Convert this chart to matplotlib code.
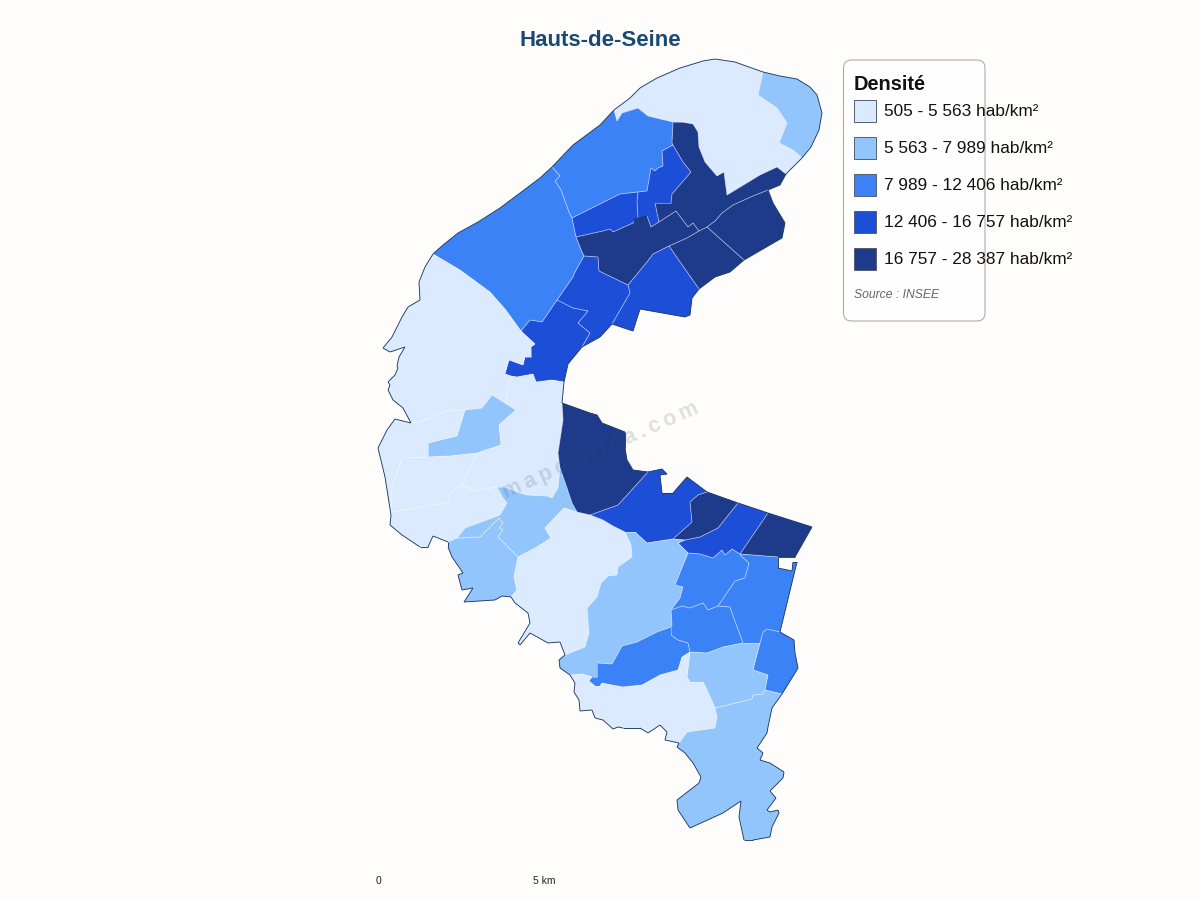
import matplotlib
matplotlib.use("Agg")
import matplotlib.pyplot as plt
from matplotlib.patches import Polygon, Rectangle, FancyBboxPatch
from matplotlib.collections import LineCollection
from collections import Counter

plt.rcParams['font.family'] = ['Liberation Sans', 'DejaVu Sans']

title = "Hauts-de-Seine"
legend_title = "Densité"
source = "Source : INSEE"
class_labels = ["505 - 5 563 hab/km²", "5 563 - 7 989 hab/km²", "7 989 - 12 406 hab/km²",
                "12 406 - 16 757 hab/km²", "16 757 - 28 387 hab/km²"]
class_colors = ["#dbeafe", "#93c5fd", "#3b82f6", "#1d4ed8", "#1e3a8a"]
scale_labels = ["0", "5 km"]
scale_pos = [378, 544]
watermark = "mapolitica.com"

# commune outlines, neighbours repeat the same vertices
north_loop = [(614, 110), (630, 98), (640, 88), (657, 78), (680, 68), (703, 61), (715, 59), (735, 62), (763, 72),
              (758, 95), (777, 108), (787, 123), (779, 143), (793, 150), (802, 158), (786, 174), (777, 167), (760, 175),
              (727, 195), (724, 172), (717, 176), (705, 162), (699, 147), (698, 132), (693, 124), (682, 122), (673, 122),
              (648, 116), (638, 108), (622, 113), (617, 121)]
north_tip = [(763, 72), (780, 76), (797, 79), (810, 87), (817, 95), (822, 113), (819, 130), (811, 147), (802, 158),
             (793, 150), (779, 143), (787, 123), (777, 108), (758, 95)]
north_west = [(552, 167), (573, 145), (600, 125), (614, 110), (617, 121), (622, 113), (638, 108), (648, 116), (673, 122),
              (672, 143), (673, 145), (662, 151), (663, 166), (658, 168), (655, 171), (651, 168), (647, 191), (638, 192), (620, 194),
              (572, 218), (569, 212), (561, 190), (555, 181), (560, 176)]
strip_a = [(572, 218), (620, 194), (638, 192), (637, 202), (638, 218), (633, 220), (633, 223), (613, 232), (610, 229),
           (603, 231), (576, 237)]
strip_b = [(673, 145), (662, 151), (663, 166), (658, 168), (655, 171), (651, 168), (647, 191), (638, 192), (637, 202),
           (638, 218), (647, 216), (651, 227), (659, 222), (655, 203), (671, 203), (672, 194), (691, 172), (683, 162)]
dark_top = [(673, 122), (682, 122), (693, 124), (698, 132), (699, 147), (705, 162), (717, 176), (724, 172), (727, 195),
            (760, 175), (777, 167), (786, 174), (780, 185), (768, 190), (753, 196), (733, 205), (722, 213), (715, 221),
            (707, 227), (699, 231), (693, 223), (688, 227), (676, 211), (659, 222), (655, 203), (671, 203), (672, 194),
            (691, 172), (683, 162), (673, 145), (672, 143)]
dark_mid = [(576, 237), (603, 231), (610, 229), (613, 232), (633, 223), (633, 220), (647, 216), (651, 227), (659, 222),
            (676, 211), (688, 227), (693, 223), (699, 231), (687, 238), (669, 246), (653, 254), (647, 262), (628, 285),
            (599, 271), (598, 257), (584, 256), (582, 252)]
dark_east = [(768, 190), (773, 203), (785, 223), (782, 238), (744, 260), (707, 227), (715, 221), (722, 213), (733, 205),
             (753, 196)]
dark_south = [(707, 227), (744, 260), (730, 272), (715, 277), (699, 289), (669, 246), (687, 238), (699, 231)]
bend_east = [(669, 246), (699, 289), (692, 298), (690, 315), (685, 317), (640, 309), (633, 331), (612, 324), (630, 293),
             (628, 285), (647, 262), (653, 254)]
bend_mid = [(584, 256), (598, 257), (599, 271), (628, 285), (630, 293), (612, 324), (600, 337), (582, 347), (590, 333),
            (578, 323), (588, 311), (573, 308), (557, 300), (573, 277), (575, 272)]
bend_low = [(557, 300), (542, 322), (530, 320), (521, 331), (535, 344), (531, 347), (531, 357), (525, 357), (523, 365),
            (509, 360), (505, 374), (511, 376), (517, 377), (533, 374), (536, 382), (552, 380), (564, 382), (568, 364),
            (582, 347), (590, 333), (578, 323), (588, 311), (573, 308)]
west_big = [(433, 254), (443, 245), (458, 233), (478, 222), (500, 208), (520, 193), (540, 178), (552, 167), (560, 176), (555, 181),
            (561, 190), (569, 212), (572, 218), (576, 237), (582, 252), (584, 256), (575, 272), (573, 277), (557, 300),
            (542, 322), (530, 320), (521, 331), (505, 309), (490, 292), (460, 270)]
west_light = [(433, 254), (425, 267), (419, 282), (420, 300), (408, 307), (402, 317), (392, 337), (383, 348), (390, 352),
              (405, 347), (399, 357), (397, 366), (398, 368), (395, 375), (388, 382), (390, 385), (388, 390), (393, 400),
              (403, 408), (411, 423), (420, 422), (450, 410), (465, 410), (482, 408), (492, 395), (505, 403), (508, 390),
              (511, 376), (505, 374), (509, 360), (523, 365), (525, 357), (531, 357), (531, 347), (535, 344), (521, 331),
              (505, 309), (490, 292), (460, 270)]
inner_pale = [(428, 443), (457, 436), (465, 410), (482, 408), (492, 395), (505, 403), (516, 410), (499, 425), (501, 445),
              (477, 453), (450, 456), (428, 457)]
river_light = [(511, 376), (517, 377), (533, 374), (536, 382), (552, 380), (564, 382), (562, 403), (563, 420), (558, 453),
               (560, 468), (558, 488), (552, 498), (547, 496), (527, 495), (517, 492), (505, 487), (497, 487), (480, 490),
               (473, 490), (462, 485), (473, 463), (477, 453), (501, 445), (499, 425), (516, 410), (505, 403), (508, 390)]
far_west = [(411, 423), (420, 422), (450, 410), (465, 410), (457, 436), (428, 443), (428, 457), (402, 458), (392, 487),
            (391, 515), (385, 477), (378, 448), (387, 430), (395, 419)]
mid_west = [(402, 458), (428, 457), (450, 456), (477, 453), (473, 463), (462, 485), (450, 492), (448, 502), (415, 508),
            (392, 512), (391, 515), (392, 487)]
low_west = [(391, 515), (392, 512), (415, 508), (448, 502), (450, 492), (462, 485), (473, 490), (480, 490), (497, 487),
            (503, 498), (507, 503), (500, 515), (465, 528), (457, 538), (448, 542), (433, 536), (428, 547), (420, 547),
            (402, 535), (390, 525)]
pale_centre = [(497, 487), (505, 487), (517, 492), (527, 495), (547, 496), (552, 498), (558, 488), (560, 468), (567, 488),
               (572, 503), (577, 512), (564, 508), (545, 528), (551, 538), (537, 547), (518, 557), (498, 537), (503, 530),
               (499, 528), (503, 523), (499, 518), (485, 532), (480, 537), (457, 538), (465, 528), (500, 515), (507, 503),
               (503, 498)]
pale_west = [(457, 538), (480, 537), (485, 532), (499, 518), (503, 523), (499, 528), (503, 530), (498, 537), (518, 557),
             (514, 577), (517, 590), (511, 597), (502, 596), (495, 600), (464, 602), (473, 588), (462, 590), (458, 575),
             (463, 573), (452, 557), (448, 547), (448, 542)]
centre_light = [(564, 508), (577, 512), (590, 515), (603, 520), (613, 526), (625, 532), (631, 545), (632, 557), (618, 567),
                (617, 575), (608, 576), (601, 583), (597, 597), (587, 608), (589, 633), (585, 647), (565, 655), (560, 642),
                (548, 643), (530, 633), (520, 645), (518, 643), (530, 623), (528, 613), (515, 603), (511, 597), (517, 590),
                (514, 577), (518, 557), (537, 547), (551, 538), (545, 528)]
dark_river = [(562, 403), (590, 413), (597, 415), (602, 423), (625, 432), (625, 448), (627, 460), (633, 470), (648, 472),
              (618, 505), (590, 515), (577, 512), (572, 503), (567, 488), (560, 468), (558, 453), (563, 420)]
river_blue = [(648, 472), (618, 505), (590, 515), (603, 520), (613, 526), (625, 532), (635, 532), (647, 543), (653, 542),
              (673, 539), (692, 522), (690, 502), (698, 495), (707, 492), (687, 477), (673, 493), (662, 493), (660, 475),
              (667, 474), (662, 469)]
dark_small = [(707, 492), (738, 503), (718, 528), (700, 537), (685, 540), (673, 539), (692, 522), (690, 502), (698, 495)]
blue_east = [(738, 503), (768, 513), (740, 554), (732, 549), (725, 555), (722, 550), (713, 558), (700, 554), (688, 553),
             (678, 543), (685, 540), (700, 537), (718, 528)]
dark_corner = [(768, 513), (812, 527), (795, 557), (778, 557), (740, 554)]
south_pale = [(625, 532), (635, 532), (647, 543), (653, 542), (673, 539), (685, 540), (678, 543), (688, 553), (675, 585),
              (683, 587), (680, 598), (671, 610), (672, 625), (671, 627), (657, 632), (637, 642), (622, 646), (612, 664),
              (597, 663), (597, 677), (592, 677), (582, 674), (570, 675), (560, 668), (559, 660), (565, 655), (585, 647),
              (589, 633), (587, 608), (597, 597), (601, 583), (608, 576), (617, 575), (618, 567), (632, 557), (631, 545)]
mid_a = [(688, 553), (700, 554), (713, 558), (722, 550), (725, 555), (732, 549), (740, 554), (742, 557), (749, 563),
         (745, 578), (735, 581), (718, 606), (708, 610), (703, 603), (690, 608), (682, 606), (671, 610), (680, 598),
         (683, 587), (675, 585)]
mid_b = [(740, 554), (778, 557), (778, 568), (792, 571), (793, 562), (797, 562), (780, 632), (767, 629), (763, 632),
         (760, 643), (743, 643), (732, 613), (730, 607), (718, 606), (735, 581), (745, 578), (749, 563), (742, 557)]
mid_c = [(671, 610), (682, 606), (690, 608), (703, 603), (708, 610), (718, 606), (730, 607), (732, 613), (743, 643),
         (723, 647), (707, 653), (690, 652), (688, 643), (678, 640), (671, 635), (671, 627), (672, 625)]
mid_d = [(597, 663), (612, 664), (622, 646), (637, 642), (657, 632), (671, 627), (671, 635), (678, 640), (688, 643),
         (690, 652), (682, 657), (678, 670), (660, 675), (642, 685), (623, 687), (612, 685), (602, 683), (600, 686),
         (595, 686), (589, 681), (592, 677), (597, 677)]
mid_e = [(767, 629), (780, 632), (794, 640), (795, 653), (798, 668), (795, 673), (782, 694), (765, 690), (768, 675),
         (753, 670), (760, 643), (763, 632)]
pale_east = [(690, 652), (707, 653), (723, 647), (743, 643), (760, 643), (753, 670), (768, 675), (765, 690), (763, 694),
             (753, 695), (752, 699), (715, 708), (707, 690), (703, 682), (690, 682), (687, 677)]
south_light = [(570, 675), (582, 674), (592, 677), (589, 681), (595, 686), (600, 686), (602, 683), (612, 685), (623, 687),
               (642, 685), (660, 675), (678, 670), (682, 657), (690, 652), (687, 677), (690, 682), (703, 682), (707, 690),
               (715, 708), (717, 717), (715, 728), (687, 732), (679, 743), (665, 740), (667, 732), (663, 728), (660, 725),
               (648, 733), (640, 728), (623, 728), (618, 727), (613, 729), (603, 720), (595, 718), (592, 710), (580, 711),
               (579, 700), (574, 692), (575, 683)]
far_south = [(679, 743), (687, 732), (715, 728), (717, 717), (715, 708), (752, 699), (753, 695), (763, 694), (765, 690),
             (782, 694), (772, 708), (768, 727), (767, 733), (757, 748), (763, 753), (760, 760), (770, 763), (784, 772),
             (783, 778), (770, 791), (776, 798), (767, 810), (770, 812), (778, 810), (779, 813), (772, 827), (770, 837),
             (753, 840), (744, 840), (739, 817), (741, 801), (723, 813), (690, 828), (678, 810), (677, 800), (699, 783),
             (701, 777), (693, 763), (685, 753), (677, 747)]

communes = [north_loop, north_tip, north_west, strip_a, strip_b, dark_top, dark_mid, dark_east, dark_south, bend_east,
            bend_mid, bend_low, west_big, west_light, inner_pale, river_light, far_west, mid_west, low_west, pale_centre,
            pale_west, centre_light, dark_river, river_blue, dark_small, blue_east, dark_corner, south_pale, mid_a, mid_b,
            mid_c, mid_d, mid_e, pale_east, south_light, far_south]
commune_class = [0, 1, 2, 3, 3, 4, 4, 4, 4, 3,
                 3, 3, 2, 0, 1, 0, 0, 0, 0, 1,
                 1, 0, 4, 3, 4, 3, 4, 1, 2, 2,
                 2, 2, 2, 1, 0, 1]

fig = plt.figure(figsize=(12, 9), dpi=100, facecolor="#fefdfb")
ax = fig.add_axes([0, 0, 1, 1])
ax.set_xlim(0, 1200)
ax.set_ylim(900, 0)
ax.axis('off')

edge_count = Counter()
for pts, cls in zip(communes, commune_class):
    ax.add_patch(Polygon(pts, closed=True, facecolor=class_colors[cls], edgecolor='none', zorder=2))
    for a, b in zip(pts, pts[1:] + pts[:1]):
        edge_count[tuple(sorted((a, b)))] += 1

# an edge used by one commune only lies on the outline of the department
inner = [e for e, n in edge_count.items() if n > 1]
outer = [e for e, n in edge_count.items() if n == 1]
ax.add_collection(LineCollection(inner, colors='white', linewidths=0.6, alpha=0.5, zorder=3))
ax.add_collection(LineCollection(outer, colors='#1e3a5f', linewidths=0.65, zorder=4))

ax.text(601, 450, "\u2009".join(watermark), rotation=23.9, rotation_mode='anchor', ha='center', va='center',
        fontsize=15.5, fontweight='bold', color='#4b5563', alpha=0.18, zorder=5)

ax.text(600, 40, title, ha='center', va='center', fontsize=16, fontweight='bold', color='#1a4a73', zorder=6)

ax.add_patch(FancyBboxPatch((843.5, 60), 141.5, 261, boxstyle="round,pad=0,rounding_size=8", facecolor='white',
                            edgecolor='#aaaaaa', linewidth=0.8, alpha=0.95, zorder=6))
ax.text(854, 85, legend_title, ha='left', va='center', fontsize=14.4, fontweight='bold', color='#111111', zorder=7)
for i, (label, color) in enumerate(zip(class_labels, class_colors)):
    y = 110.5 + i * 37
    ax.add_patch(Rectangle((854, y - 11), 22, 22, facecolor=color, edgecolor='#555e70', linewidth=0.7, zorder=7))
    ax.text(884, y + 1, label, ha='left', va='center', fontsize=12.45, color='#111111', zorder=7)
ax.text(854, 295.5, source, ha='left', va='center', fontsize=8.7, style='italic', color='#666666', zorder=7)

for x, label in zip(scale_pos, scale_labels):
    ax.text(x, 881.5, label, ha='center', va='center', fontsize=7.4, color='#222222', zorder=6)

fig.savefig("out.png", dpi=100, facecolor=fig.get_facecolor())
